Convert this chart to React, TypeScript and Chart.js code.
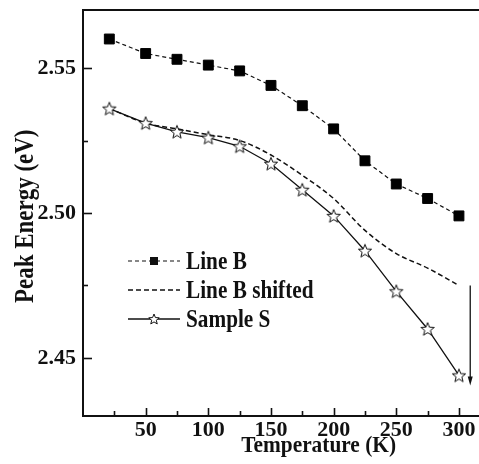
import React, { useEffect, useRef } from "react";
import { Chart, registerables } from "chart.js";

Chart.register(...registerables);

// ---- data ----
const temperatures = [21, 50, 75, 100, 125, 150, 175, 200, 225, 250, 275, 300];
const lineB = [2.56, 2.555, 2.553, 2.551, 2.549, 2.544, 2.537, 2.529, 2.518, 2.51, 2.505, 2.499];
const lineBShifted = [2.536, 2.531, 2.529, 2.527, 2.525, 2.52, 2.513, 2.505, 2.494, 2.486, 2.481, 2.475];
const sampleS = [2.536, 2.531, 2.528, 2.526, 2.523, 2.517, 2.508, 2.499, 2.487, 2.473, 2.46, 2.444];

const xTickValues = [25, 50, 75, 100, 125, 150, 175, 200, 225, 250, 275, 300];
const xTickLabels = ["", "50", "", "100", "", "150", "", "200", "", "250", "", "300"];
const yTickValues = [2.45, 2.475, 2.5, 2.525, 2.55];
const yTickLabels = ["2.45", "", "2.50", "", "2.55"];

const arrowX = [309, 309];
const arrowY = [2.475, 2.4405];

const seriesNames = ["Line B", "Line B shifted", "Sample S"];
const xTitle = "Temperature (K)";
const yTitle = "Peak Energy (eV)";

const FONT = '"Liberation Serif", "Times New Roman", serif';

function starPath(ctx: CanvasRenderingContext2D, cx: number, cy: number, outer: number, inner: number) {
  ctx.beginPath();
  for (let i = 0; i < 10; i++) {
    const r = i % 2 === 0 ? outer : inner;
    const a = -Math.PI / 2 + (i * Math.PI) / 5;
    const px = cx + r * Math.cos(a);
    const py = cy + r * Math.sin(a);
    if (i === 0) ctx.moveTo(px, py);
    else ctx.lineTo(px, py);
  }
  ctx.closePath();
}

function makeStarImage(outer: number, inner: number): HTMLCanvasElement {
  const size = Math.ceil(outer * 2 + 4);
  const c = document.createElement("canvas");
  c.width = size;
  c.height = size;
  const ctx = c.getContext("2d")!;
  starPath(ctx, size / 2, size / 2 + 0.6, outer, inner);
  ctx.fillStyle = "#fff";
  ctx.fill();
  ctx.lineWidth = 1;
  ctx.strokeStyle = "#111";
  ctx.stroke();
  return c;
}

const decorPlugin = {
  id: "decor",
  afterDraw(chart: any) {
    const ctx: CanvasRenderingContext2D = chart.ctx;
    const area = chart.chartArea;
    const xs = chart.scales.x;
    const ys = chart.scales.y;
    ctx.save();
    ctx.strokeStyle = "#111";
    ctx.fillStyle = "#111";

    // top frame line
    ctx.lineWidth = 2;
    ctx.beginPath();
    ctx.moveTo(area.left - 1, area.top);
    ctx.lineTo(area.right, area.top);
    ctx.stroke();

    // inward tick marks
    ctx.lineWidth = 1.6;
    xTickValues.forEach((v, i) => {
      const px = Math.round(xs.getPixelForValue(v)) + 0.5;
      const len = xTickLabels[i] ? 8 : 5;
      ctx.beginPath();
      ctx.moveTo(px, area.bottom);
      ctx.lineTo(px, area.bottom - len);
      ctx.stroke();
    });
    yTickValues.forEach((v, i) => {
      const py = Math.round(ys.getPixelForValue(v)) + 0.5;
      const len = yTickLabels[i] ? 9 : 5;
      ctx.beginPath();
      ctx.moveTo(area.left, py);
      ctx.lineTo(area.left + len, py);
      ctx.stroke();
    });

    // arrow
    const ax = xs.getPixelForValue(arrowX[0]);
    const ay0 = ys.getPixelForValue(arrowY[0]);
    const ay1 = ys.getPixelForValue(arrowY[1]);
    ctx.lineWidth = 1.3;
    ctx.beginPath();
    ctx.moveTo(ax, ay0);
    ctx.lineTo(ax, ay1 - 6);
    ctx.stroke();
    ctx.beginPath();
    ctx.moveTo(ax, ay1);
    ctx.lineTo(ax - 2.5, ay1 - 9);
    ctx.lineTo(ax + 2.5, ay1 - 9);
    ctx.closePath();
    ctx.fill();

    // axis titles
    ctx.font = `bold 24px ${FONT}`;
    ctx.textAlign = "center";
    ctx.textBaseline = "alphabetic";
    ctx.save();
    ctx.translate(area.left + (area.right - area.left) * 0.595, area.bottom + 36);
    ctx.scale(0.89, 1);
    ctx.fillText(xTitle, 0, 0);
    ctx.restore();

    ctx.font = `bold 27px ${FONT}`;
    ctx.save();
    ctx.translate(33, area.top + (area.bottom - area.top) * 0.508);
    ctx.rotate(-Math.PI / 2);
    ctx.scale(0.85, 1);
    ctx.fillText(yTitle, 0, 0);
    ctx.restore();

    // legend
    const lx0 = area.left + 45;
    const lx1 = lx0 + 52;
    const mx = lx0 + 26;
    const tx = lx1 + 6;
    const rows = [251, 280, 309].map((d) => area.top + d);
    // row 1: Line B
    ctx.lineWidth = 1.2;
    ctx.setLineDash([4, 3]);
    ctx.beginPath();
    ctx.moveTo(lx0, rows[0]);
    ctx.lineTo(lx1, rows[0]);
    ctx.stroke();
    ctx.setLineDash([]);
    ctx.fillRect(mx - 4, rows[0] - 4, 8, 8);
    // row 2: shifted
    ctx.lineWidth = 1.5;
    ctx.setLineDash([5, 3]);
    ctx.beginPath();
    ctx.moveTo(lx0, rows[1]);
    ctx.lineTo(lx1, rows[1]);
    ctx.stroke();
    ctx.setLineDash([]);
    // row 3: sample
    ctx.lineWidth = 1.3;
    ctx.beginPath();
    ctx.moveTo(lx0, rows[2]);
    ctx.lineTo(lx1, rows[2]);
    ctx.stroke();
    starPath(ctx, mx, rows[2] + 0.5, 5.5, 2.4);
    ctx.fillStyle = "#fff";
    ctx.fill();
    ctx.lineWidth = 1;
    ctx.stroke();
    ctx.fillStyle = "#111";

    ctx.font = `bold 25px ${FONT}`;
    ctx.textAlign = "left";
    rows.forEach((ry, i) => {
      ctx.save();
      ctx.translate(tx, ry + 8);
      ctx.scale(0.85, 1);
      ctx.fillText(seriesNames[i], 0, 0);
      ctx.restore();
    });

    ctx.restore();
  },
};

export default function App() {
  const canvasRef = useRef<HTMLCanvasElement | null>(null);

  useEffect(() => {
    document.body.style.margin = "0";
    const canvas = canvasRef.current;
    if (!canvas) return;
    const star = makeStarImage(7, 3);
    const pts = (ys: number[]) => temperatures.map((t, i) => ({ x: t, y: ys[i] }));

    const chart = new Chart(canvas, {
      type: "line",
      data: {
        datasets: [
          {
            label: seriesNames[2],
            data: pts(sampleS),
            borderColor: "#111",
            borderWidth: 1.3,
            pointStyle: star as any,
            pointRadius: 7,
            tension: 0,
          },
          {
            label: seriesNames[0],
            data: pts(lineB),
            borderColor: "#111",
            borderWidth: 1.2,
            borderDash: [4, 3],
            pointStyle: "rect",
            pointRadius: 7,
            pointBackgroundColor: "#000",
            pointBorderColor: "#000",
            pointBorderWidth: 1,
            tension: 0,
          },
          {
            label: seriesNames[1],
            data: pts(lineBShifted),
            borderColor: "#111",
            borderWidth: 1.5,
            borderDash: [5, 3],
            pointRadius: 0,
            cubicInterpolationMode: "monotone",
          },
        ],
      },
      options: {
        responsive: false,
        animation: false,
        devicePixelRatio: 1,
        layout: { autoPadding: false, padding: { top: 10, right: 0, left: 0, bottom: 0 } },
        plugins: {
          legend: { display: false },
          tooltip: { enabled: false },
        },
        scales: {
          x: {
            type: "linear",
            min: 0,
            max: 316,
            afterBuildTicks: (scale: any) => {
              scale.ticks = xTickValues.map((v) => ({ value: v }));
            },
            afterFit: (scale: any) => {
              scale.height = 48;
              scale.paddingLeft = 0;
              scale.paddingRight = 0;
            },
            ticks: {
              autoSkip: false,
              maxRotation: 0,
              padding: 1,
              color: "#111",
              font: { family: FONT, size: 22, weight: "bold" },
              callback: (v: any) => {
                const i = xTickValues.indexOf(Number(v));
                return i >= 0 ? xTickLabels[i] : "";
              },
            },
            grid: { display: false, drawTicks: false },
            border: { display: true, width: 2, color: "#111" },
          },
          y: {
            type: "linear",
            min: 2.43,
            max: 2.57,
            afterBuildTicks: (scale: any) => {
              scale.ticks = yTickValues.map((v) => ({ value: v }));
            },
            afterFit: (scale: any) => {
              scale.width = 83;
              scale.paddingTop = 0;
              scale.paddingBottom = 0;
            },
            ticks: {
              autoSkip: false,
              padding: 7,
              color: "#111",
              font: { family: FONT, size: 22, weight: "bold" },
              callback: (v: any) => {
                const i = yTickValues.findIndex((t) => Math.abs(t - Number(v)) < 1e-6);
                return i >= 0 ? yTickLabels[i] : "";
              },
            },
            grid: { display: false, drawTicks: false },
            border: { display: true, width: 2, color: "#111" },
          },
        },
      },
      plugins: [decorPlugin],
    } as any);

    return () => chart.destroy();
  }, []);

  return (
    <div style={{ width: 479, height: 464, background: "#fff" }}>
      <canvas ref={canvasRef} width={479} height={464} style={{ display: "block" }} />
    </div>
  );
}
